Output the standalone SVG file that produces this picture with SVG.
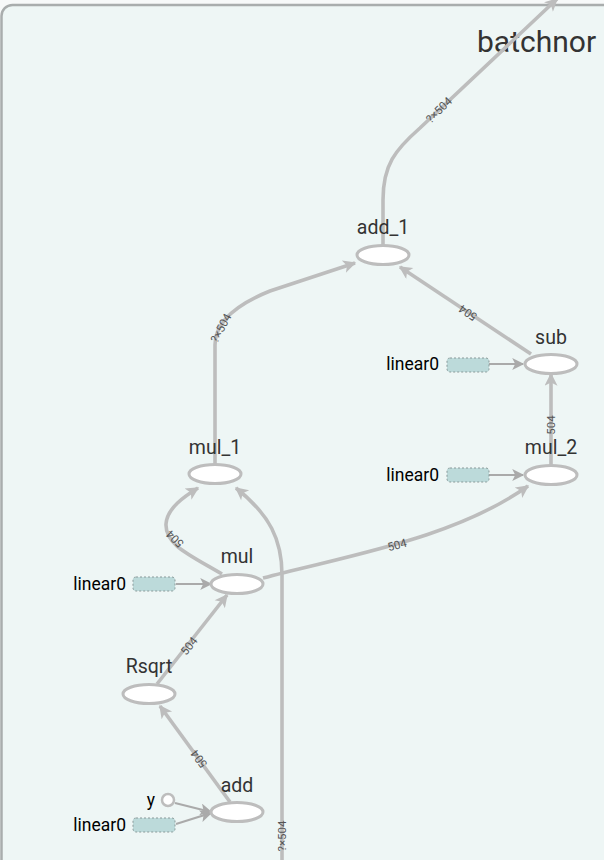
<svg xmlns="http://www.w3.org/2000/svg" width="604" height="860" viewBox="0 0 604 860">
<style>
.edge{fill:none;stroke:#bdbdbd;stroke-width:3.6;marker-end:url(#arr)}
.cedge{fill:none;stroke:#aaaaaa;stroke-width:2.2;marker-end:url(#carr)}
.op{fill:#ffffff;stroke:#bdbdbd;stroke-width:3}
.const{fill:#bcdada;stroke:#8a9a9a;stroke-width:1;stroke-dasharray:2,2}
.lbl{font-family:Roboto,"Liberation Sans",sans-serif;font-size:19.5px;fill:#333;text-anchor:middle}
.clbl{font-family:Roboto,"Liberation Sans",sans-serif;font-size:17.5px;fill:#000;text-anchor:end}
.elbl{font-family:Roboto,"Liberation Sans",sans-serif;font-size:11.5px;fill:#555;text-anchor:middle;dominant-baseline:central}
</style>
<defs>
<marker id="arr" viewBox="0 0 10 10" refX="9" refY="5" markerWidth="16" markerHeight="13" markerUnits="userSpaceOnUse" orient="auto">
<path d="M0,0 L10,5 L0,10 L2.5,5 Z" fill="#bdbdbd"/>
</marker>
<marker id="carr" viewBox="0 0 10 10" refX="9" refY="5" markerWidth="13" markerHeight="12" markerUnits="userSpaceOnUse" orient="auto">
<path d="M0,0 L10,5 L0,10 L2.5,5 Z" fill="#aaaaaa"/>
</marker>
</defs>
<rect x="0" y="0" width="604" height="860" fill="#f7f9f9"/>
<g id="container">
<rect x="1.5" y="5" width="720" height="900" rx="11" fill="#eef6f5" stroke="#a9adad" stroke-width="2.5"/>
<text x="477" y="52" font-family="Roboto,'Liberation Sans',sans-serif" font-size="30" fill="#333">batchnor</text>
</g>
<g id="edges">
<path class="edge" d="M383,246 V200 C383,165 395,150 420,128 L557,-1"/>
<path class="edge" d="M215,464 V345 C215,322 235,305 270,291 L355,263"/>
<path class="edge" d="M531,354 L400,267"/>
<path class="edge" d="M551,465 V374"/>
<path class="edge" d="M263,578 C350,555 455,538 528,486"/>
<path class="edge" d="M222,574 C190,555 165,545 166,524 C167,508 185,496 198,488"/>
<path class="edge" d="M282,862 V575 C282,540 270,515 236,488"/>
<path class="edge" d="M157,684 L227,595"/>
<path class="edge" d="M230,802 L160,706"/>
<path class="cedge" d="M489,364 H523"/>
<path class="cedge" d="M489,475 H523"/>
<path class="cedge" d="M176,584 H211"/>
<path class="cedge" d="M176,824 L211,813"/>
<path class="cedge" d="M175,803 L211,812"/>
<text class="elbl" transform="translate(439,110) rotate(-44)">?×504</text>
<text class="elbl" transform="translate(221,328) rotate(-62)">?×504</text>
<text class="elbl" transform="translate(468,313) rotate(-146)">504</text>
<text class="elbl" transform="translate(551,425) rotate(-90)">504</text>
<text class="elbl" transform="translate(397,545) rotate(-15)">504</text>
<text class="elbl" transform="translate(175,539) rotate(-135)">504</text>
<text class="elbl" transform="translate(282,836) rotate(-90)">?×504</text>
<text class="elbl" transform="translate(189,646) rotate(-52)">504</text>
<text class="elbl" transform="translate(199,759) rotate(-127)">504</text>
</g>
<g id="node-add_1">
<ellipse class="op" cx="383" cy="255" rx="26" ry="9.5"/>
<text class="lbl" x="383" y="234">add_1</text>
</g>
<g id="node-sub">
<ellipse class="op" cx="551" cy="364" rx="26" ry="9.5"/>
<text class="lbl" x="551" y="344">sub</text>
</g>
<g id="node-mul_2">
<ellipse class="op" cx="551" cy="475" rx="26" ry="9.5"/>
<text class="lbl" x="551" y="454">mul_2</text>
</g>
<g id="node-mul_1">
<ellipse class="op" cx="215" cy="474" rx="26" ry="9.5"/>
<text class="lbl" x="215" y="454">mul_1</text>
</g>
<g id="node-mul">
<ellipse class="op" cx="237" cy="584" rx="26" ry="9.5"/>
<text class="lbl" x="237" y="563">mul</text>
</g>
<g id="node-Rsqrt">
<ellipse class="op" cx="149" cy="694" rx="26" ry="9.5"/>
<text class="lbl" x="149" y="673">Rsqrt</text>
</g>
<g id="node-add">
<ellipse class="op" cx="237" cy="812" rx="26" ry="9.5"/>
<text class="lbl" x="237" y="792">add</text>
</g>
<g id="const-sub-linear0">
<rect class="const" x="447" y="358" width="42" height="14" rx="3"/>
<text class="clbl" x="439" y="370">linear0</text>
</g>
<g id="const-mul_2-linear0">
<rect class="const" x="447" y="468" width="42" height="14" rx="3"/>
<text class="clbl" x="439" y="481">linear0</text>
</g>
<g id="const-mul-linear0">
<rect class="const" x="133" y="577" width="42" height="14" rx="3"/>
<text class="clbl" x="126" y="590">linear0</text>
</g>
<g id="const-add-linear0">
<rect class="const" x="133" y="818" width="42" height="14" rx="3"/>
<text class="clbl" x="126" y="831">linear0</text>
</g>
<g id="input-y">
<circle cx="168" cy="800" r="6" fill="#ffffff" stroke="#bdbdbd" stroke-width="2.5"/>
<text class="clbl" x="155" y="806">y</text>
</g>
</svg>
